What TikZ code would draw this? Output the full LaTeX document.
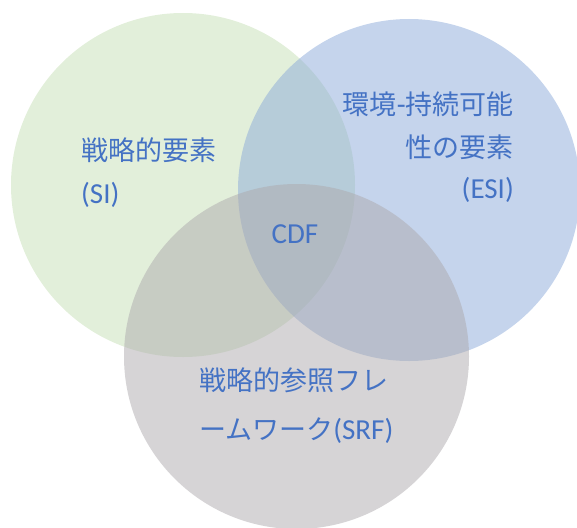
\documentclass[tikz,border=0pt]{standalone}
\usepackage{fontspec}
\setmainfont{Carlito}
\newfontfamily\jpfont{Noto Sans CJK JP}
\newcommand{\jpt}[1]{{\fontsize{27}{27}\selectfont\jpfont #1}}
\definecolor{txtblue}{HTML}{4472C4}
\definecolor{cgreen}{HTML}{C5DFB5}
\definecolor{cblue}{HTML}{8BA9D9}
\definecolor{cgray}{HTML}{ADA9AD}
\begin{document}
\begin{tikzpicture}[x=1pt,y=-1pt,
  setcircle/.style={circle, inner sep=0pt, draw=none, fill opacity=0.5},
  lbl/.style={text=txtblue, font=\fontsize{29}{29}\selectfont, inner sep=0pt}]
\useasboundingbox (0,0) rectangle (577,527);
\node[setcircle, fill=cgreen, minimum size=344pt] (si) at (183,185) {};
\node[setcircle, fill=cblue, minimum size=342pt] (esi) at (409,190) {};
\node[setcircle, fill=cgray, minimum size=345pt] (srf) at (296.5,356.5) {};
\node[lbl, anchor=base west] (si1) at (81,160.5) {\jpt{戦略的要素}};
\node[lbl, anchor=base west] (si2) at (81,203) {(SI)};
\node[lbl, anchor=base east] (esi1) at (514,114) {\jpt{環境}-\jpt{持続可能}};
\node[lbl, anchor=base east] (esi2) at (514,157) {\jpt{性の要素}};
\node[lbl, anchor=base east] (esi3) at (514,198) {(ESI)};
\node[lbl, anchor=base] (cdf) at (295,243) {CDF};
\node[lbl, anchor=base west] (srf1) at (199,390) {\jpt{戦略的参照フレ}};
\node[lbl, anchor=base west] (srf2) at (199,439) {\jpt{ームワーク}(SRF)};
\end{tikzpicture}
\end{document}
